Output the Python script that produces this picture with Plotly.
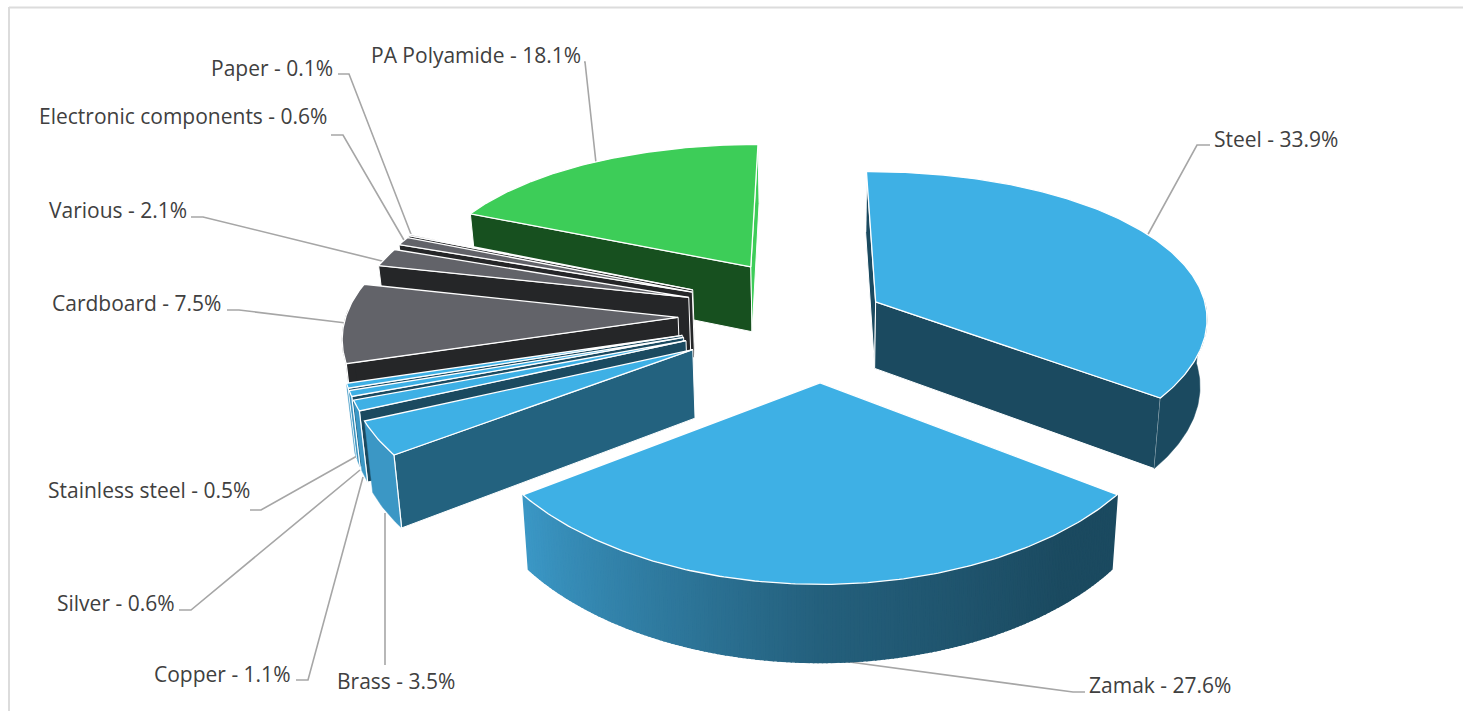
import numpy as np
import plotly.graph_objects as go

materials = ["Steel", "Zamak", "Brass", "Copper", "Silver", "Stainless steel",
             "Cardboard", "Various", "Electronic components", "Paper", "PA Polyamide"]
percent = [33.9, 27.6, 3.5, 1.1, 0.6, 0.5, 7.5, 2.1, 0.6, 0.1, 18.1]

# ---- styling / camera calibration ----
explode = [0.19, 0.42, 0.435, 0.43, 0.43, 0.43, 0.427, 0.417, 0.42, 0.425, 0.395]
BLUE, BLUE_D, BLUE_M, BLUE_L = "#3EB0E5", "#1B4A60", "#23627F", "#3B97C5"
GREY, GREY_D = "#626369", "#252628"
GREEN, GREEN_D = "#3DCD58", "#17501F"
top_col = [BLUE] * 6 + [GREY] * 4 + [GREEN]
rad_col = [BLUE_D, BLUE_D, BLUE_M, BLUE_D, BLUE_D, BLUE_D, GREY_D, GREY_D, GREY_D, GREY_D, GREEN_D]
out_col = [BLUE_D, None, BLUE_L, BLUE_L, BLUE_L, BLUE_L, GREY_D, GREY_D, GREY_D, GREY_D, GREEN_D]
CX, CY, RX, A, KY, KX, H, LEAN = 820, 315, 332, 152, 0.14, 0.10, 67, 0.018
START = -3.0
warp_in = [-3, 124.7, 176, 228.6, 250, 278.4, 286.3, 289, 357]
warp_out = [-0.8, 126.5, 180, 233.5, 253, 283, 290, 294, 360.2]

# label: text, anchor x, y, xanchor, leader points
labels = {
    "Steel": (1212, 139, "left", [(1146, 238), (1197, 145), (1210, 145)]),
    "Zamak": (1087, 685, "left", [(820, 658), (1073, 692), (1085, 692)]),
    "Brass": (335, 681, "left", [(385, 513), (385, 665)]),
    "Copper": (293, 674, "right", [(363, 477), (308, 680), (296, 680)]),
    "Silver": (177, 603, "right", [(360, 470), (191, 610), (179, 610)]),
    "Stainless steel": (252, 490, "right", [(357, 456), (261, 510), (250, 510)]),
    "Cardboard": (223, 303, "right", [(346, 323), (239, 310), (227, 310)]),
    "Various": (189, 210, "right", [(386, 262), (203, 217), (191, 217)]),
    "Electronic components": (329, 116, "right", [(408, 247), (343, 135), (331, 135)]),
    "Paper": (335, 68, "right", [(414, 242), (349, 74), (338, 74)]),
    "PA Polyamide": (583, 55, "right", [(596, 163), (585, 62), (584, 62)]),
}
FONT = "Open Sans"
FS = 21


def project(X, Y, z=0.0):
    """ground-plane point (radius units, Y toward the viewer) -> page pixels"""
    X, Y = np.asarray(X, float), np.asarray(Y, float)
    sx = CX + RX * X / (1 - KX * Y) * (1 - LEAN * z)
    sy = CY + A * Y / (1 - KY * Y) + z * H / (1 - KX * Y)
    return sx, sy


def warp(t):
    return np.interp(t, warp_in, warp_out)


def poly(fig, x, y, fill, line="#FFFFFF", w=1.2):
    fig.add_trace(go.Scatter(x=list(x) + [x[0]], y=list(y) + [y[0]], mode="lines", fill="toself",
                             fillcolor=fill, line=dict(color=line, width=w),
                             hoverinfo="skip", showlegend=False))


def hex2(c):
    return np.array([int(c[i:i + 2], 16) for i in (1, 3, 5)], float)


def zamak_shade(t):
    k = np.interp(t, [140, 180, 233], [0, 0.28, 1])
    c = hex2(BLUE_D) * (1 - k) + hex2(BLUE_L) * k
    return "#%02X%02X%02X" % tuple(int(round(v)) for v in c)


fig = go.Figure()

# leader lines behind the slices
for name in materials:
    pts = labels[name][3]
    fig.add_trace(go.Scatter(x=[p[0] for p in pts], y=[p[1] for p in pts], mode="lines",
                             line=dict(color="#A6A6A6", width=1.6),
                             hoverinfo="skip", showlegend=False))

shares = np.array(percent) / sum(percent) * 360
edges = START + np.concatenate([[0], np.cumsum(shares)])
edges[-1] = warp_in[-1]

order = [10, 9, 8, 7, 6, 5, 4, 3, 2, 0, 1]
for i in order:
    t0, t1 = warp(edges[i]), warp(edges[i + 1])
    mid = np.radians((t0 + t1) / 2)
    ox, oy = explode[i] * np.sin(mid), -explode[i] * np.cos(mid)
    ts = np.linspace(t0, t1, max(4, int((t1 - t0) * 1.5)))
    r = np.radians(ts)
    ax, ay = ox + np.sin(r), oy - np.cos(r)

    # radial walls facing the viewer
    for t, visible, col in ((t0, -np.sin(np.radians(t0)) > 0, rad_col[i]),
                            (t1, np.sin(np.radians(t1)) > 0, top_col[i])):
        if visible:
            rr = np.radians(t)
            if t == t1 and t1 < 180:
                col = rad_col[i]
            px = np.array([ox, ox + np.sin(rr)])
            py = np.array([oy, oy - np.cos(rr)])
            sx0, sy0 = project(px, py)
            sx1, sy1 = project(px, py, 1)
            poly(fig, list(sx0) + list(sx1[::-1]), list(sy0) + list(sy1[::-1]), col, w=1.0)

    # outer wall
    keep = (ts > 88) & (ts < 273)
    if keep.sum() >= 2:
        wx, wy = ax[keep], ay[keep]
        sx0, sy0 = project(wx, wy)
        sx1, sy1 = project(wx, wy, 1)
        if out_col[i] is None:
            tk = ts[keep]
            for j in range(len(tk) - 1):
                c = zamak_shade((tk[j] + tk[j + 1]) / 2)
                poly(fig, [sx0[j], sx0[j + 1], sx1[j + 1], sx1[j]],
                     [sy0[j], sy0[j + 1], sy1[j + 1], sy1[j]], c, line=c, w=1.5)
        else:
            poly(fig, list(sx0) + list(sx1[::-1]), list(sy0) + list(sy1[::-1]), out_col[i],
                 line=out_col[i], w=0.5)

    # radial front corner edge stays white on top of the outer wall
    if -np.sin(np.radians(t0)) > 0 and t0 < 273:
        rr = np.radians(t0)
        ex, ey = ox + np.sin(rr), oy - np.cos(rr)
        xa, ya = project(ex, ey)
        xb, yb = project(ex, ey, 1)
        fig.add_trace(go.Scatter(x=[float(xa), float(xb)], y=[float(ya), float(yb)], mode="lines",
                                 line=dict(color="#FFFFFF", width=1.2),
                                 hoverinfo="skip", showlegend=False))

    # top face
    tx, ty = project(np.concatenate([[ox], ax]), np.concatenate([[oy], ay]))
    poly(fig, tx, ty, top_col[i], w=1.3)

# text labels
for name, pct in zip(materials, percent):
    x, y, anchor, pts = labels[name]
    fig.add_annotation(x=x, y=y, text=f"{name} - {pct}%", showarrow=False, xanchor=anchor,
                       yanchor="middle", font=dict(family=FONT, size=FS, color="#404040"))

fig.update_layout(
    width=1463, height=711, margin=dict(l=0, r=0, t=0, b=0),
    paper_bgcolor="#FFFFFF", plot_bgcolor="#FFFFFF",
    xaxis=dict(range=[0, 1463], visible=False, fixedrange=True),
    yaxis=dict(range=[711, 0], visible=False, fixedrange=True),
    shapes=[
        dict(type="line", x0=9, x1=1463, y0=7.5, y1=7.5, line=dict(color="#DCDCDC", width=2)),
        dict(type="line", x0=9, x1=9, y0=7, y1=711, line=dict(color="#DCDCDC", width=2)),
    ],
)
fig.write_html("out.html", post_script="document.body.style.margin='0';", config={"displayModeBar": False})
